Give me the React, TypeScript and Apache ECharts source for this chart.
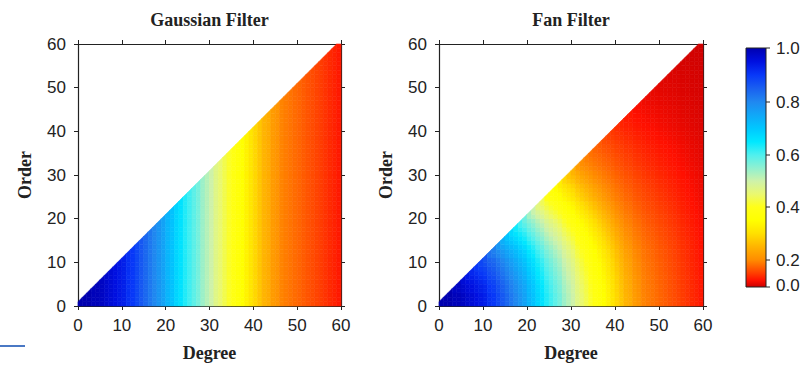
import React, { useEffect, useRef } from 'react';
import * as echarts from 'echarts';

const DEGREES = Array.from({ length: 61 }, (_, i) => i);
const DEGREE_MAX = 60;
const GAUSSIAN_WEIGHTS = [
  1.0, 1.0, 1.0, 0.99, 0.99, 0.98, 0.97, 0.96, 0.95, 0.94,
  0.93, 0.91, 0.9, 0.88, 0.86, 0.84, 0.82, 0.8, 0.78, 0.76,
  0.73, 0.71, 0.68, 0.66, 0.63, 0.61, 0.59, 0.57, 0.54, 0.52,
  0.5, 0.47, 0.45, 0.43, 0.41, 0.39, 0.37, 0.35, 0.33, 0.31,
  0.29, 0.27, 0.25, 0.24, 0.22, 0.21, 0.19, 0.18, 0.17, 0.16,
  0.15, 0.14, 0.13, 0.12, 0.11, 0.1, 0.09, 0.08, 0.07, 0.06,
  0.05,
];

// colour scale, evenly spaced from 0.0 (bottom) to 1.0 (top), step 0.05
const COLOR_SCALE = [
  '#cc0000', '#ff1000', '#ff3c00', '#ff6400', '#ff8c00', '#ffb400',
  '#ffe000', '#ffff00', '#ffff18', '#eaf870', '#cef2aa', '#90f0d0',
  '#50f0ee', '#00e8ff', '#00c8ff', '#10a8f8', '#2088f0', '#1a60f0',
  '#0838f8', '#0010e0', '#0000b0',
];
const COLORBAR_VALUES = [0, 0.2, 0.4, 0.6, 0.8, 1.0];
const COLORBAR_LABELS = ['0.0', '0.2', '0.4', '0.6', '0.8', '1.0'];

const TITLES = ['Gaussian Filter', 'Fan Filter'];

// layout
const GRIDS = [
  { left: 78, top: 44, width: 263, height: 263 },
  { left: 439, top: 44, width: 264, height: 263 },
];
const BAR = { x: 746, top: 48, width: 20, bottom: 287 };
const BAR_TICK_Y = [287, 260, 207, 155, 102, 48];

const SANS = '"Liberation Sans", Arial, sans-serif';
const SERIF = '"Liberation Serif", "Times New Roman", serif';
const INK = '#222';

function valueToBarY(v: number) {
  for (let i = 0; i < COLORBAR_VALUES.length - 1; i++) {
    const a = COLORBAR_VALUES[i];
    const b = COLORBAR_VALUES[i + 1];
    if (v >= a && v <= b) {
      const t = (v - a) / (b - a);
      return BAR_TICK_Y[i] + t * (BAR_TICK_Y[i + 1] - BAR_TICK_Y[i]);
    }
  }
  return BAR.top;
}

export default function App() {
  const ref = useRef<HTMLDivElement>(null);

  useEffect(() => {
    if (!ref.current) return;
    const chart = echarts.init(ref.current, undefined, { renderer: 'svg' });

    const gaussData: number[][] = [];
    const fanData: number[][] = [];
    DEGREES.forEach((n) => {
      for (let m = 0; m <= n; m++) {
        gaussData.push([n, m, GAUSSIAN_WEIGHTS[n]]);
        // fan filter: Gaussian weight in degree times Gaussian weight in order
        fanData.push([n, m, GAUSSIAN_WEIGHTS[n] * GAUSSIAN_WEIGHTS[m]]);
      }
    });

    const axisLine = { show: true, onZero: false, lineStyle: { color: INK, width: 1.2 } };
    const axisTick = { show: true, inside: false, length: 4, lineStyle: { color: INK, width: 1 } };
    const label = { fontFamily: SANS, fontSize: 17, color: INK };
    const nameStyle = { fontFamily: SERIF, fontWeight: 'bold' as const, fontSize: 18, color: INK };

    const xAxis: any[] = [];
    const yAxis: any[] = [];
    GRIDS.forEach((_, g) => {
      xAxis.push({
        type: 'value', gridIndex: g, min: 0, max: DEGREE_MAX, interval: 10, position: 'bottom',
        axisLine, axisTick, splitLine: { show: false },
        axisLabel: { ...label, margin: 11 },
        name: 'Degree', nameLocation: 'middle', nameGap: 38, nameTextStyle: nameStyle,
      });
      xAxis.push({
        type: 'value', gridIndex: g, min: 0, max: DEGREE_MAX, interval: 10, position: 'top',
        axisLine, axisTick, splitLine: { show: false }, axisLabel: { show: false },
      });
      yAxis.push({
        type: 'value', gridIndex: g, min: 0, max: DEGREE_MAX, interval: 10, position: 'left',
        axisLine, axisTick, splitLine: { show: false },
        axisLabel: { ...label, margin: 12 },
        name: 'Order', nameLocation: 'middle', nameGap: 44, nameTextStyle: nameStyle,
      });
      yAxis.push({
        type: 'value', gridIndex: g, min: 0, max: DEGREE_MAX, interval: 10, position: 'right',
        axisLine, axisTick, splitLine: { show: false }, axisLabel: { show: false },
      });
    });

    const renderItem = (params: any, api: any) => {
      const n = api.value(0);
      const m = api.value(1);
      const color = api.visual('color');
      const style = { fill: color, stroke: color, lineWidth: 0.6 };
      if (n >= DEGREE_MAX) return null;
      if (m === n) {
        const pts = [[n, n], [n + 1, n], [n + 1, n + 2], [n, n + 1]].map(([x, y]) =>
          api.coord([Math.min(x, DEGREE_MAX), Math.min(y, DEGREE_MAX)])
        );
        return { type: 'polygon', shape: { points: pts }, style };
      }
      const p0 = api.coord([n, m]);
      const p1 = api.coord([n + 1, m + 1]);
      const cs = params.coordSys;
      const shape = echarts.graphic.clipRectByRect(
        { x: p0[0], y: p1[1], width: p1[0] - p0[0], height: p0[1] - p1[1] },
        { x: cs.x, y: cs.y, width: cs.width, height: cs.height }
      );
      if (!shape) return null;
      return { type: 'rect', shape, style };
    };

    const top = BAR.top;
    const h = BAR.bottom - BAR.top;
    const stops = COLOR_SCALE.map((c, i) => {
      const v = i / (COLOR_SCALE.length - 1);
      return { offset: Math.min(1, Math.max(0, (valueToBarY(v) - top) / h)), color: c };
    }).sort((a, b) => a.offset - b.offset);

    const graphics: any[] = [];
    TITLES.forEach((t, g) => {
      graphics.push({
        type: 'text', x: GRIDS[g].left + GRIDS[g].width / 2, y: 20,
        style: { text: t, align: 'center', verticalAlign: 'middle', font: `bold 18px ${SERIF}`, fill: INK },
      });
    });
    graphics.push({
      type: 'rect', shape: { x: BAR.x, y: top, width: BAR.width, height: h },
      style: { fill: new echarts.graphic.LinearGradient(0, 0, 0, 1, stops), stroke: INK, lineWidth: 1 },
    });
    COLORBAR_VALUES.forEach((v, i) => {
      const y = BAR_TICK_Y[i];
      graphics.push({
        type: 'line', shape: { x1: BAR.x + BAR.width, y1: y, x2: BAR.x + BAR.width + 4, y2: y },
        style: { stroke: INK, lineWidth: 1 },
      });
      graphics.push({
        type: 'text', x: BAR.x + BAR.width + 10, y: i === 0 ? y - 2 : y,
        style: { text: COLORBAR_LABELS[i], align: 'left', verticalAlign: 'middle', font: `17px ${SANS}`, fill: INK },
      });
    });
    graphics.push({
      type: 'line', shape: { x1: 0, y1: 346, x2: 25, y2: 346 },
      style: { stroke: '#4a78c4', lineWidth: 2 },
    });

    chart.setOption({
      animation: false,
      backgroundColor: '#ffffff',
      grid: GRIDS.map((g) => ({ ...g, containLabel: false })),
      xAxis,
      yAxis,
      visualMap: {
        type: 'continuous', show: false, min: 0, max: 1, dimension: 2,
        seriesIndex: [0, 1], inRange: { color: COLOR_SCALE },
      },
      series: [
        { type: 'custom', xAxisIndex: 0, yAxisIndex: 0, renderItem, data: gaussData, encode: { x: 0, y: 1 } },
        { type: 'custom', xAxisIndex: 2, yAxisIndex: 2, renderItem, data: fanData, encode: { x: 0, y: 1 } },
      ],
      graphic: graphics,
    });

    return () => chart.dispose();
  }, []);

  return (
    <div
      ref={ref}
      style={{ position: 'fixed', left: 0, top: 0, width: 802, height: 367, background: '#fff' }}
    />
  );
}
